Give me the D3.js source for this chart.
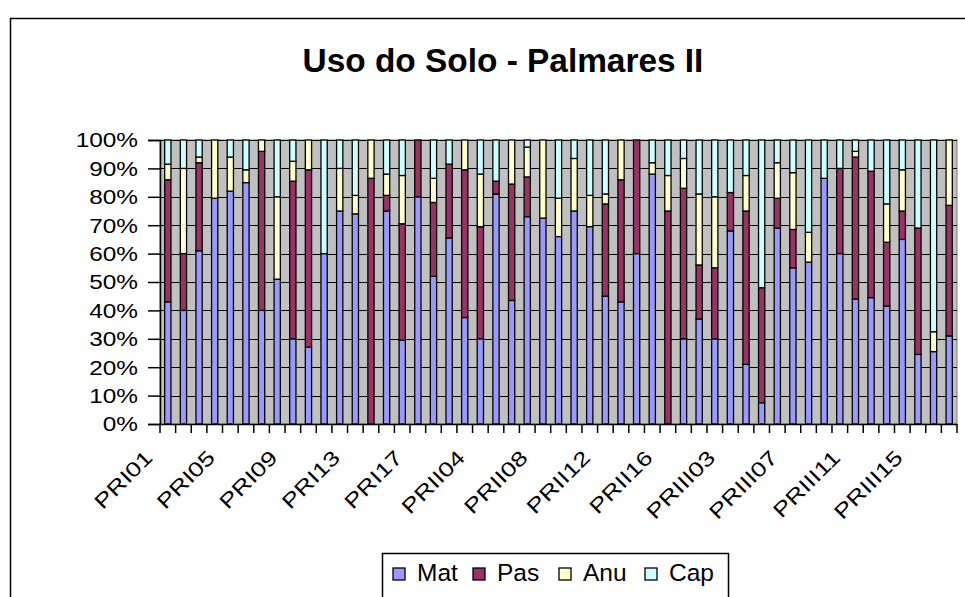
<!DOCTYPE html>
<html>
<head>
<meta charset="utf-8">
<script src="https://cdn.jsdelivr.net/npm/d3@7"></script>
<style>
  body { margin: 0; background: #fff; }
  svg { display: block; font-family: Arial, "Liberation Sans", sans-serif; }
</style>
</head>
<body>
<svg id="canvas" width="965" height="597"></svg>
<script>
// Uso do Solo - Palmares II (percent stacked columns)
let categories = [
  'PRI01','PRI02','PRI03','PRI04','PRI05','PRI06','PRI07','PRI08','PRI09','PRI10',
  'PRI11','PRI12','PRI13','PRI14','PRI15','PRI16','PRI17',
  'PRII01','PRII02','PRII03','PRII04','PRII05','PRII06','PRII07','PRII08','PRII09','PRII10',
  'PRII11','PRII12','PRII13','PRII14','PRII15','PRII16','PRII17',
  'PRIII01','PRIII02','PRIII03','PRIII04','PRIII05','PRIII06','PRIII07','PRIII08','PRIII09','PRIII10',
  'PRIII11','PRIII12','PRIII13','PRIII14','PRIII15','PRIII16','PRIII17'
]

let mat = [43, 40, 61, 79.5, 82, 85, 40, 51, 30, 27,
           60, 75, 74, 0, 75, 29.5, 80,
           52, 65.5, 37.5, 30, 81, 43.5, 73, 72.5, 66, 75,
           69.5, 45, 43, 60, 88, 0, 30,
           37, 30, 68, 21, 7.5, 69, 55, 57, 86.5, 60,
           44, 44.5, 41.5, 65, 24.5, 25.5, 31]
let pas = [43, 20, 31, 0, 0, 0, 56, 0, 55.5, 62.5,
           0, 0, 0, 86.5, 5.5, 41, 20,
           26, 26, 52, 39.5, 4.5, 41, 14, 0, 0, 0,
           0, 32.5, 43, 40, 0, 75, 53,
           19, 25, 13.5, 54, 40.5, 10.5, 13.5, 0, 0, 30,
           50, 44.5, 22.5, 10, 44.5, 0, 46]
let anu = [5.5, 30, 2, 20.5, 12, 4.5, 4, 29, 7, 10.5,
           0, 15, 6.5, 13.5, 7.5, 17, 0,
           8.5, 0, 10.5, 18.5, 0, 15.5, 10.5, 27.5, 13.5, 18.5,
           11, 3.5, 14, 0, 4, 12.5, 10.5,
           25, 25, 0, 12.5, 0, 12.5, 20, 10.5, 0, 0,
           2, 0, 13.5, 14.5, 0, 7, 23]
let cap = [8.5, 10, 6, 0, 6, 10.5, 0, 20, 7.5, 0,
           40, 10, 19.5, 0, 12, 12.5, 0,
           13.5, 8.5, 0, 12, 14.5, 0, 2.5, 0, 20.5, 6.5,
           19.5, 19, 0, 0, 8, 12.5, 6.5,
           19, 20, 18.5, 12.5, 52, 8, 11.5, 32.5, 13.5, 10,
           4, 11, 22.5, 10.5, 31, 67.5, 0]

let seriesNames = ['Mat', 'Pas', 'Anu', 'Cap']
let seriesColors = ['#9999FF', '#993366', '#FFFFCC', '#CCFFFF']
let yTicks = [0, 0.1, 0.2, 0.3, 0.4, 0.5, 0.6, 0.7, 0.8, 0.9, 1]

let rows = categories.map((c, i) => {
    return {cat: c, Mat: mat[i], Pas: pas[i], Anu: anu[i], Cap: cap[i]}
})

let canvas = d3.select('#canvas')

let plotLeft = 160, plotRight = 957, plotTop = 140, plotBottom = 424

let xScale = d3.scaleBand()
                .domain(categories)
                .range([plotLeft, plotRight])
                .paddingInner(0.6)
                .paddingOuter(0.3)
let xCell = d3.scaleBand()
                .domain(categories)
                .range([plotLeft, plotRight])
let yScale = d3.scaleLinear()
                .domain([0, 1])
                .range([plotBottom, plotTop])

let stacked = d3.stack()
                .keys(seriesNames)
                .offset(d3.stackOffsetExpand)(rows)

// outer chart border
canvas.append('rect')
        .attr('x', 10.5).attr('y', 18.5)
        .attr('width', 1000).attr('height', 700)
        .attr('fill', 'white')
        .attr('stroke', 'black')
        .attr('stroke-width', 1.5)

canvas.append('text')
        .attr('x', 503)
        .attr('y', 72)
        .attr('text-anchor', 'middle')
        .attr('font-size', 33.4)
        .attr('font-weight', 'bold')
        .text('Uso do Solo - Palmares II')

// plot area
canvas.append('rect')
        .attr('x', plotLeft).attr('y', plotTop)
        .attr('width', plotRight - plotLeft).attr('height', plotBottom - plotTop)
        .attr('fill', '#C0C0C0')
        .attr('stroke', '#808080')

canvas.append('g')
        .selectAll('line')
        .data(yTicks)
        .enter()
        .append('line')
        .attr('x1', plotLeft).attr('x2', plotRight)
        .attr('y1', (d) => Math.round(yScale(d)) + 0.5)
        .attr('y2', (d) => Math.round(yScale(d)) + 0.5)
        .attr('stroke', 'black')

let layer = canvas.selectAll('g.layer')
        .data(stacked)
        .enter()
        .append('g')
        .attr('class', 'layer')
        .attr('fill', (s, i) => seriesColors[i])

layer.selectAll('rect')
        .data((s) => s)
        .enter()
        .append('rect')
        .attr('x', (d) => xScale(d.data.cat))
        .attr('width', xScale.bandwidth())
        .attr('y', (d) => yScale(d[1]))
        .attr('height', (d) => yScale(d[0]) - yScale(d[1]))
        .attr('stroke', 'black')
        .attr('stroke-width', 1.3)

// y axis
let yAxis = d3.axisLeft(yScale)
                .tickValues(yTicks)
                .tickFormat(d3.format('.0%'))
                .tickSize(12)
                .tickPadding(10)
let yG = canvas.append('g')
        .attr('transform', 'translate(' + plotLeft + ',0)')
        .call(yAxis)
yG.select('.domain').attr('stroke', 'black').attr('stroke-width', 1.5)
yG.selectAll('.tick line').attr('stroke', 'black').attr('stroke-width', 1.5)
yG.selectAll('.tick text')
        .attr('font-size', 19.5)
        .attr('font-family', 'Arial, "Liberation Sans", sans-serif')
        .attr('fill', 'black')
        .attr('dy', '0.35em')
        .each(function () {
            let t = d3.select(this)
            let x = +t.attr('x')
            t.attr('x', null)
             .attr('transform', 'translate(' + x + ',0) scale(1.25,1)')
        })

// x axis
canvas.append('line')
        .attr('x1', plotLeft).attr('x2', plotRight)
        .attr('y1', plotBottom + 0.5).attr('y2', plotBottom + 0.5)
        .attr('stroke', 'black')
        .attr('stroke-width', 1.5)

let tickPos = categories.map((c) => xCell(c)).concat([plotRight])
canvas.append('g')
        .selectAll('line')
        .data(tickPos)
        .enter()
        .append('line')
        .attr('x1', (d) => d).attr('x2', (d) => d)
        .attr('y1', plotBottom).attr('y2', plotBottom + 9)
        .attr('stroke', 'black')
        .attr('stroke-width', 1.5)

let shown = categories.filter((c, i) => i % 4 === 0)
canvas.append('g')
        .selectAll('text')
        .data(shown)
        .enter()
        .append('text')
        .attr('text-anchor', 'end')
        .attr('font-size', 20.5)
        .attr('transform', (c) => {
            let x = xCell(c) + xCell.bandwidth() / 2 - 14
            return 'translate(' + x + ',' + (plotBottom + 35) + ') rotate(-45) scale(1.27,1)'
        })
        .text((c) => c)

// legend
let legend = canvas.append('g')
legend.append('rect')
        .attr('x', 382.5).attr('y', 553.5)
        .attr('width', 346).attr('height', 80)
        .attr('fill', 'white')
        .attr('stroke', 'black')
        .attr('stroke-width', 1.5)

let legendX = [393, 473, 559, 645]
let item = legend.selectAll('g.item')
        .data(seriesNames)
        .enter()
        .append('g')
        .attr('class', 'item')
        .attr('transform', (s, i) => 'translate(' + legendX[i] + ',568)')
item.append('rect')
        .attr('width', 12).attr('height', 12)
        .attr('fill', (s, i) => seriesColors[i])
        .attr('stroke', 'black')
        .attr('stroke-width', 1.3)
item.append('text')
        .attr('x', 24)
        .attr('y', 12.5)
        .attr('font-size', 24.5)
        .text((s) => s)
</script>
</body>
</html>
